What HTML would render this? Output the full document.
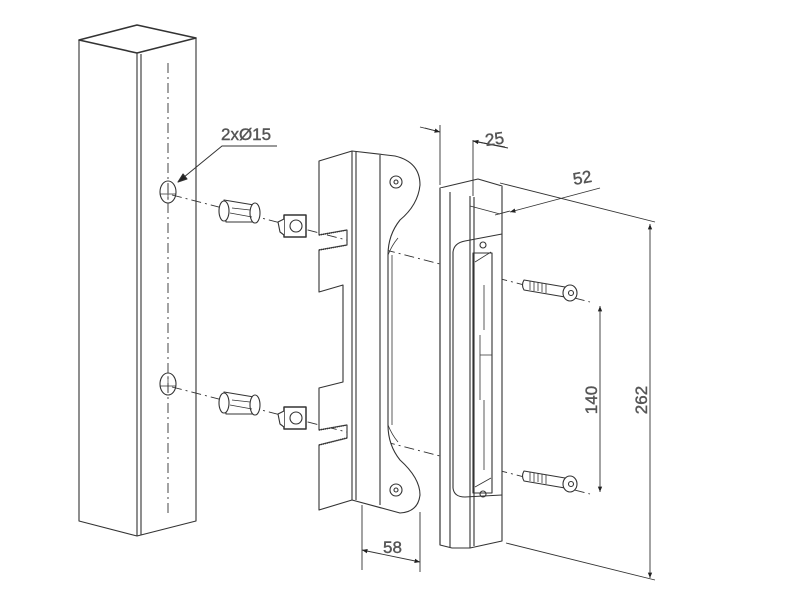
<!DOCTYPE html>
<html><head><meta charset="utf-8"><style>
html,body{margin:0;padding:0;background:#fff;}
svg{display:block}
text{font-family:"Liberation Sans","DejaVu Sans",sans-serif;fill:#555;font-size:17px;stroke:#555;stroke-width:0.4;}
</style></head><body>
<svg width="800" height="606" viewBox="0 0 800 606" xmlns="http://www.w3.org/2000/svg">
<defs>
<marker id="ar" viewBox="0 0 10 10" refX="10" refY="5" markerWidth="9" markerHeight="6" orient="auto-start-reverse"><path d="M0,1 L10,5 L0,9 z" fill="#222"/></marker>
</defs>
<g fill="none" stroke="#333" stroke-width="1.1" stroke-linejoin="round">
<!-- post -->
<path d="M79,40 L137,25 L196,38 L137,53 Z" stroke-width="1.6"/>
<path d="M79,40 V521 L137,536 L196,521 V38"/>
<path d="M137,53 V536 M141,54 V535"/>
<path d="M168,63 V513" stroke-dasharray="10,4,2,4" stroke-width="0.9"/>
<ellipse cx="168" cy="192" rx="8" ry="11"/>
<ellipse cx="168" cy="384" rx="8" ry="11"/>
<path d="M160,194 H176 M168,184 V200 M160,386 H176 M168,376 V392" stroke-width="0.7"/>
<!-- leader -->
<path d="M277,146 H222 L178,182" stroke-width="1"/>
<path d="M178,182 l9,-3 l-4,-5 z" fill="#222"/>
<!-- axis dashed lines -->
<path d="M172,195 L440,264" stroke-dasharray="10,4,2,4" stroke-width="0.9"/>
<path d="M172,387 L440,456" stroke-dasharray="10,4,2,4" stroke-width="0.9"/>
<path d="M478,273 L590,302 M478,465 L590,494" stroke-dasharray="10,4,2,4" stroke-width="0.9"/>
<!-- plugs -->
<g id="plug">
<path d="M224,200 L254,205 L256,222 L226,222 Z" fill="#fff"/>
<ellipse cx="224" cy="211" rx="5" ry="10" fill="#fff"/>
<ellipse cx="255" cy="213" rx="5" ry="10" fill="#fff"/>
<path d="M230,213 L252,217 M232,208 L250,210" stroke-width="0.8"/>
<rect x="284" y="215" width="22" height="22" fill="#fff" stroke-width="1.5"/>
<circle cx="296" cy="226" r="6"/>
<path d="M284,219 L278,222 L280,232 L284,235" fill="#fff"/>
</g>
<use href="#plug" transform="translate(0,192)"/>
<!-- plate -->
<path d="M319,161 L352,151 L395,156 Q420,162 420,185 Q418,205 400,220 Q388,235 388,255 V425 Q388,445 400,460 Q420,478 420,495 Q418,512 400,513 L352,500 L319,510 V445 L347,438 V425 L319,430 V388 L343,382 V285 L319,292 V250 L347,245 V230 L319,235 Z" fill="#fff"/>
<path d="M352,151 V500 M356,152 V500 M380,155 V505"/>
<path d="M392,255 V425 M388,255 Q392,245 398,238 M388,425 Q392,435 398,442" stroke-width="0.8"/>
<path d="M319,235 L347,230 M319,250 L347,245 M319,430 L347,425 M319,445 L347,438" stroke-dasharray="1,1" stroke-width="1.6"/>
<circle cx="396" cy="182" r="6"/><circle cx="396" cy="182" r="2"/>
<circle cx="396" cy="490" r="6"/><circle cx="396" cy="490" r="2"/>
<!-- keeper -->
<path d="M440,188 L478,179 L502,186 L470,196 Z" fill="#fff"/>
<path d="M440,188 V545 L452,548 L470,548 L502,541 V186" fill="#fff"/>
<path d="M440,188 L440,545"/>
<path d="M450,192 V547 M470,196 V548 M474,197 V546"/>
<path d="M502,234 L465,241 Q454,243 453,252 V488 Q454,497 465,497 L502,495" />
<path d="M473,253 H492 V493 H473 Z"/>
<path d="M484,285 V330 M480,335 V355 H492 M480,355 V400 M484,400 V470" stroke-width="0.8"/>
<path d="M475,262 L491,252 M475,487 L491,478" stroke-width="0.8"/>
<circle cx="483" cy="245" r="3"/><circle cx="483" cy="494" r="3"/>
<!-- screws -->
<g id="screw">
<path d="M524,280 L565,287 L565,297 L524,290 Q521,285 524,280 Z" fill="#fff"/>
<path d="M530,281 v9 M534,282 v9 M538,282 v9 M542,283 v9 M546,284 v9" stroke-width="0.8"/>
<ellipse cx="570" cy="293" rx="7" ry="8" fill="#fff"/>
<circle cx="571" cy="293" r="2.5"/>
</g>
<use href="#screw" transform="translate(0,191)"/>
<!-- dimensions -->
<g stroke-width="0.9">
<path d="M440,185 V125 M473,196 V140"/>
<path d="M420,127 L440,132 M473,141 L508,148" />
<path d="M425,128 L440,132" marker-end="url(#ar)"/>
<path d="M505,147 L473,141" marker-end="url(#ar)"/>
<path d="M500,183 L655,222 M506,543 L655,580 M495,215 L510,211"/>
<path d="M600,188 L510,212" marker-end="url(#ar)"/>
<path d="M500,214 L470,206"/>
<path d="M650,224 V578" marker-start="url(#ar)" marker-end="url(#ar)"/>
<path d="M600,306 V492" marker-start="url(#ar)" marker-end="url(#ar)"/>
<path d="M362,505 V570 M420,512 V572"/>
<path d="M362,550 L420,562" marker-start="url(#ar)" marker-end="url(#ar)"/>
</g>
</g>
<text x="221" y="140">2xØ15</text>
<text x="486" y="146" transform="rotate(-8 486 146)">25</text>
<text x="574" y="185" transform="rotate(-10 574 185)">52</text>
<text x="597" y="400" transform="rotate(-90 597 400)" text-anchor="middle">140</text>
<text x="647" y="400" transform="rotate(-90 647 400)" text-anchor="middle">262</text>
<text x="383" y="553">58</text>
</svg>
</body></html>
